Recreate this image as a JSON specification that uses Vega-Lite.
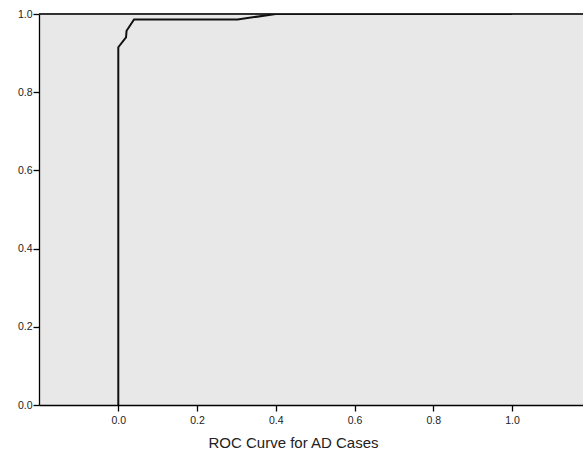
{
  "$schema": "https://vega.github.io/schema/vega-lite/v6.json",
  "width": 544,
  "height": 391,
  "autosize": {"type": "none"},
  "padding": {"left": 39, "top": 14, "right": 0, "bottom": 45},
  "background": "white",
  "config": {
    "view": {"stroke": null, "fill": "#e8e8e8"},
    "axis": {
      "labelFont": "Liberation Sans",
      "titleFont": "Liberation Sans",
      "labelColor": "#222222",
      "titleColor": "#222222",
      "domainColor": "#000000",
      "tickColor": "#000000",
      "domainWidth": 1.3,
      "tickWidth": 1.3,
      "grid": false
    }
  },
  "data": {
    "values": [
      {"fpr": 0.0, "tpr": 0.0},
      {"fpr": 0.0, "tpr": 0.915},
      {"fpr": 0.0196, "tpr": 0.94},
      {"fpr": 0.021, "tpr": 0.957},
      {"fpr": 0.04, "tpr": 0.986},
      {"fpr": 0.303, "tpr": 0.986},
      {"fpr": 0.4, "tpr": 1.0},
      {"fpr": 1.0, "tpr": 1.0}
    ]
  },
  "layer": [
    {
      "mark": {"type": "rule", "color": "#333333", "strokeWidth": 1.3},
      "encoding": {"y": {"datum": 1}}
    },
    {
      "mark": {"type": "line", "color": "#111111", "strokeWidth": 2, "clip": true},
      "encoding": {
        "x": {
          "field": "fpr",
          "type": "quantitative",
          "scale": {"domain": [-0.2014, 1.1803], "nice": false, "zero": false},
          "axis": {
            "values": [0, 0.2, 0.4, 0.6, 0.8, 1.0],
            "format": ".1f",
            "labelFontSize": 10.5,
            "tickSize": 6,
            "labelPadding": 4,
            "title": "ROC Curve for AD Cases",
            "titleFontSize": 15,
            "titleFontWeight": "normal",
            "titleX": 254,
            "titleY": 42,
            "titleBaseline": "alphabetic",
            "titleAnchor": "middle"
          }
        },
        "y": {
          "field": "tpr",
          "type": "quantitative",
          "scale": {"domain": [0, 1], "nice": false, "zero": false},
          "axis": {
            "values": [0, 0.2, 0.4, 0.6, 0.8, 1.0],
            "format": ".1f",
            "labelFontSize": 10.5,
            "tickSize": 6,
            "labelPadding": 1,
            "title": null
          }
        },
        "order": {"field": "fpr", "type": "quantitative"}
      }
    }
  ]
}
